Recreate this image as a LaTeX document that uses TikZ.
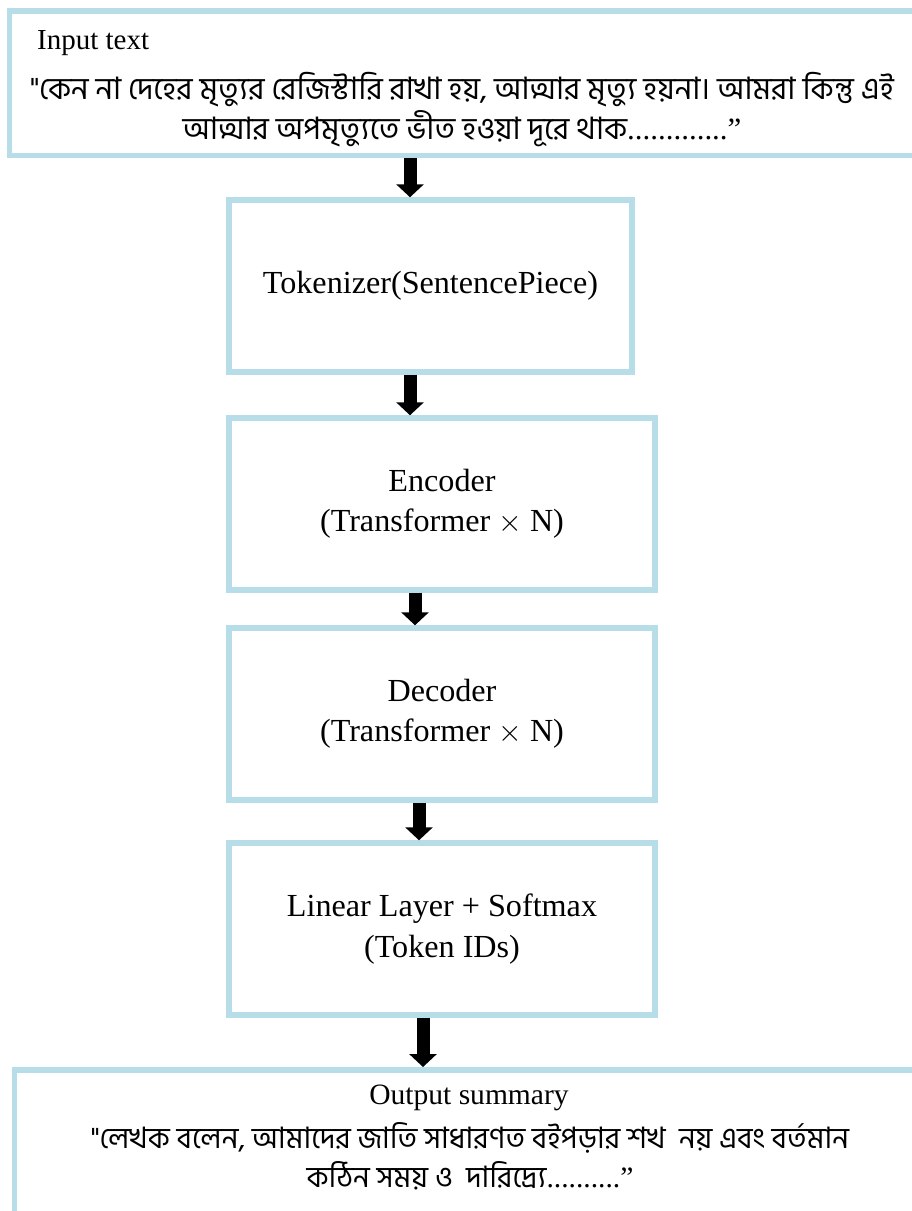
\documentclass[tikz,border=0pt]{standalone}
\usepackage{fontspec}
\setmainfont{Liberation Serif}
\newfontfamily\bnfont[Script=Bengali]{Hind Siliguri}
\usetikzlibrary{arrows.meta,positioning}
\definecolor{boxblue}{RGB}{183,222,232}

\begin{document}
\begin{tikzpicture}[
    x=0.02cm, y=-0.02cm,
    frame/.style={
        rectangle,
        draw=boxblue,
        line width=0.11cm,
        inner sep=0pt
    },
    stage/.style={
        frame,
        fill=white,
        minimum width=8.52cm,
        minimum height=3.44cm,
        align=center,
        font=\fontsize{18.3}{23}\selectfont
    },
    bntext/.style={align=center, font=\bnfont\fontsize{17.6}{22.8}\selectfont},
    arrow/.style={-{Triangle[width=0.54cm,length=0.26cm]}, line width=0.26cm}
]
    \useasboundingbox (0,0) rectangle (912,1211);

    % Input
    \node[frame, anchor=north west, minimum width=18.4cm, minimum height=2.9cm] (input) at (7,8) {};
    \node[anchor=west, font=\fontsize{16.5}{20}\selectfont] (inlabel) at (31,43) {Input text};
    \node[bntext] (intext) at (462,110)
        {"কেন না দেহের মৃত্যুর রেজিস্টারি রাখা হয়, আত্মার মৃত্যু হয়না। আমরা কিন্তু এই\\
         আত্মার অপমৃত্যুতে ভীত হওয়া দূরে থাক{\rmfamily.............”}};

    % Pipeline
    \node[stage, minimum width=8.06cm] (tok) at (430.5,286) {Tokenizer(SentencePiece)};
    \node[stage] (enc) at (442,504) {Encoder\\(Transformer $\times$ N)};
    \node[stage] (dec) at (442,714) {Decoder\\(Transformer $\times$ N)};
    \node[stage] (lin) at (442,929) {Linear Layer + Softmax\\(Token IDs)};

    % Output
    \node[frame, anchor=north west, minimum width=18.4cm, minimum height=3.5cm] (output) at (12,1067) {};
    \node[font=\fontsize{16.8}{20}\selectfont] (outlabel) at (469,1098) {Output summary};
    \node[bntext, font=\bnfont\fontsize{16.8}{22.2}\selectfont] (outtext) at (470,1156)
        {"লেখক বলেন, আমাদের জাতি সাধারণত বইপড়ার শখ\ \ নয় এবং বর্তমান\\
         কঠিন সময় ও\ \ দারিদ্র্যে{\rmfamily..........”}};

    % Arrows
    \draw[arrow] ([xshift=-0.41cm]tok.north |- input.south) -- ([xshift=-0.41cm]tok.north);
    \draw[arrow] ([xshift=-0.41cm]tok.south) -- ([xshift=-0.41cm]tok.south |- enc.north);
    \draw[arrow] ([xshift=-0.54cm]enc.south) -- ([xshift=-0.54cm]dec.north);
    \draw[arrow] ([xshift=-0.46cm]dec.south) -- ([xshift=-0.46cm]lin.north);
    \draw[arrow] ([xshift=-0.38cm]lin.south) -- ([xshift=-0.38cm]lin.south |- output.north);
\end{tikzpicture}
\end{document}
